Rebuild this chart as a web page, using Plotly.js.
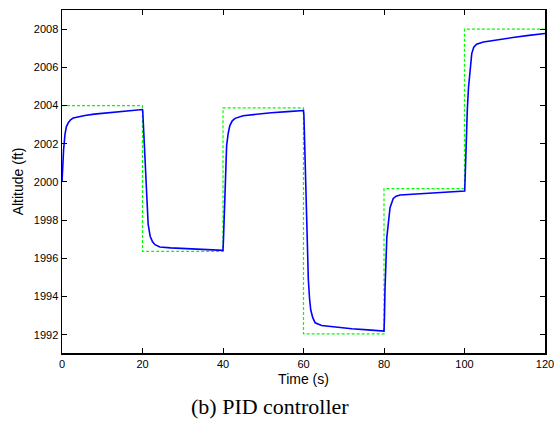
<!DOCTYPE html>
<html>
<head>
<meta charset="utf-8">
<script src="https://cdn.plot.ly/plotly-3.0.1.min.js"></script>
<style>html,body{margin:0;padding:0;background:#fff;}#chart{width:556px;height:421px;}</style>
</head>
<body>
<div id="chart"></div>
<script>
// Setpoint (reference altitude) – step changes every 20 s
const setpointTime = [0, 20, 40, 60, 80, 100, 120];
const setpointAlt  = [2004, 1996.37, 2003.88, 1992.05, 1999.65, 2008, 2008];

// PID controller altitude response
const responseTime = [
  0, 0.2, 0.4, 0.75, 1.1, 1.6, 2.2, 2.8, 4, 5.7, 8, 12, 16, 20,
  20.05, 20.3, 20.6, 21.0, 21.4, 21.9, 22.5, 23.1, 24.3, 27, 32, 36, 40,
  40.1, 40.25, 40.5, 40.9, 41.3, 41.7, 42.3, 43, 45, 48, 52, 56, 60,
  60.1, 60.4, 60.8, 61.2, 61.5, 61.8, 62.3, 62.9, 64.5, 68, 72, 76, 80,
  80.1, 80.25, 80.7, 81.1, 81.5, 82.3, 83, 84, 88, 92, 96, 100.05,
  100.2, 100.4, 100.7, 101, 101.4, 101.8, 102.3, 103, 104.7, 108, 112, 116, 120
];
const responseAlt = [
  2000, 2000.9, 2001.7, 2002.5, 2002.9, 2003.12, 2003.27, 2003.35, 2003.42, 2003.48, 2003.55, 2003.64, 2003.72, 2003.79,
  2003.75, 2002.6, 2001.0, 1998.8, 1997.8, 1997.16, 1996.87, 1996.72, 1996.6, 1996.55, 1996.5, 1996.46, 1996.42,
  1996.9, 1997.86, 2000.1, 2001.9, 2002.55, 2002.95, 2003.2, 2003.33, 2003.47, 2003.55, 2003.62, 2003.68, 2003.74,
  2003.5, 2001.0, 1997.5, 1994.9, 1993.9, 1993.3, 1992.9, 1992.63, 1992.49, 1992.4, 1992.32, 1992.26, 1992.2,
  1992.8, 1994.4, 1997.1, 1998.1, 1998.65, 1999.14, 1999.26, 1999.32, 1999.38, 1999.43, 1999.48, 1999.53,
  2000.5, 2002.3, 2003.8, 2004.96, 2006.0, 2006.72, 2007.05, 2007.21, 2007.33, 2007.45, 2007.56, 2007.67, 2007.77
];

const xTicks = [0, 20, 40, 60, 80, 100, 120];
const yTicks = [1992, 1994, 1996, 1998, 2000, 2002, 2004, 2006, 2008];

const traces = [
  {
    x: setpointTime, y: setpointAlt, type: 'scatter', mode: 'lines',
    line: {color: '#00ff00', width: 1.2, dash: '3px,2px', shape: 'hv'},
    hoverinfo: 'skip', showlegend: false
  },
  {
    x: responseTime, y: responseAlt, type: 'scatter', mode: 'lines',
    line: {color: '#0000ff', width: 1.6},
    showlegend: false
  }
];

const axisCommon = {
  showline: true, linecolor: '#000', linewidth: 1.5, mirror: 'ticks',
  ticks: 'inside', ticklen: 5, tickwidth: 1, tickcolor: '#000',
  showgrid: false, zeroline: false,
  tickfont: {family: 'Liberation Sans, Arial, sans-serif', size: 11, color: '#000'}
};

const layout = {
  width: 556, height: 421,
  margin: {l: 62, r: 11, t: 10, b: 68},
  paper_bgcolor: '#fff', plot_bgcolor: '#fff',
  xaxis: Object.assign({}, axisCommon, {
    range: [0, 120], tickvals: xTicks, ticktext: xTicks.map(String),
    title: {text: 'Time (s)', font: {family: 'Liberation Sans, Arial, sans-serif', size: 14, color: '#000'}, standoff: 5}
  }),
  yaxis: Object.assign({}, axisCommon, {
    range: [1991.05, 2009], tickvals: yTicks, ticktext: yTicks.map(String),
    title: {text: 'Altitude (ft)', font: {family: 'Liberation Sans, Arial, sans-serif', size: 14, color: '#000'}, standoff: 7}
  }),
  annotations: [{
    text: '(b) PID controller', xref: 'paper', yref: 'paper',
    x: 0.43, y: -0.157, xanchor: 'center', yanchor: 'middle', showarrow: false,
    font: {family: 'Liberation Serif, DejaVu Serif, serif', size: 22, color: '#000'}
  }]
};

Plotly.newPlot('chart', traces, layout, {displayModeBar: false, staticPlot: true});
</script>
</body>
</html>
